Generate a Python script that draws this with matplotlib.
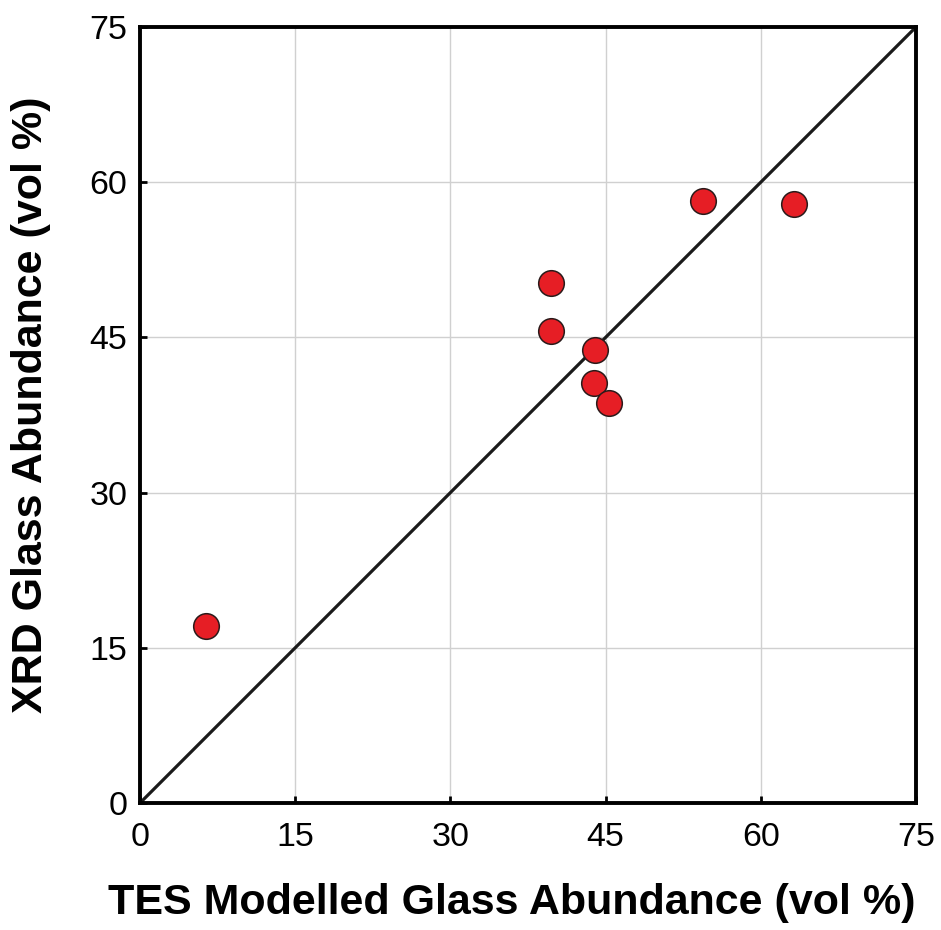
import matplotlib
matplotlib.use("Agg")
import matplotlib.pyplot as plt

plt.rcParams['font.family'] = ['Liberation Sans', 'DejaVu Sans']

# TES modelled vs XRD glass abundance (vol %)
tes_glass = [6.4, 39.7, 39.7, 44.0, 43.9, 45.3, 54.4, 63.2]
xrd_glass = [17.1, 50.3, 45.6, 43.8, 40.6, 38.7, 58.2, 57.9]
ticks = [0, 15, 30, 45, 60, 75]
one_to_one = [0, 75]

fig = plt.figure(figsize=(9.41, 9.30), dpi=100)
ax = fig.add_axes([140 / 941, 127 / 930, 776 / 941, 776 / 930])

ax.grid(True, color='#d0d0d0', linewidth=1.0, zorder=0)
ax.plot(one_to_one, one_to_one, color='#1a1a1a', linewidth=2.3, zorder=2)
ax.scatter(tes_glass, xrd_glass, s=340, color='#e61e25', edgecolor='#2a1a1a',
           linewidth=1.1, zorder=3)

ax.set_xlim(0, 75)
ax.set_ylim(0, 75)
ax.set_xticks(ticks)
ax.set_yticks(ticks)
ax.tick_params(direction='in', length=5, width=2, labelsize=24.5, pad=14)
ax.tick_params(axis='y', pad=9)
for sp in ax.spines.values():
    sp.set_linewidth(2.8)

ax.set_xlabel('TES Modelled Glass Abundance (vol %)', fontsize=31,
              fontweight='bold', va='center')
ax.set_ylabel('XRD Glass Abundance (vol %)', fontsize=31,
              fontweight='bold', va='center')
ax.xaxis.set_label_coords(0.479, -0.129)
ax.yaxis.set_label_coords(-0.141, 0.513)

fig.savefig('out.png', dpi=100)
